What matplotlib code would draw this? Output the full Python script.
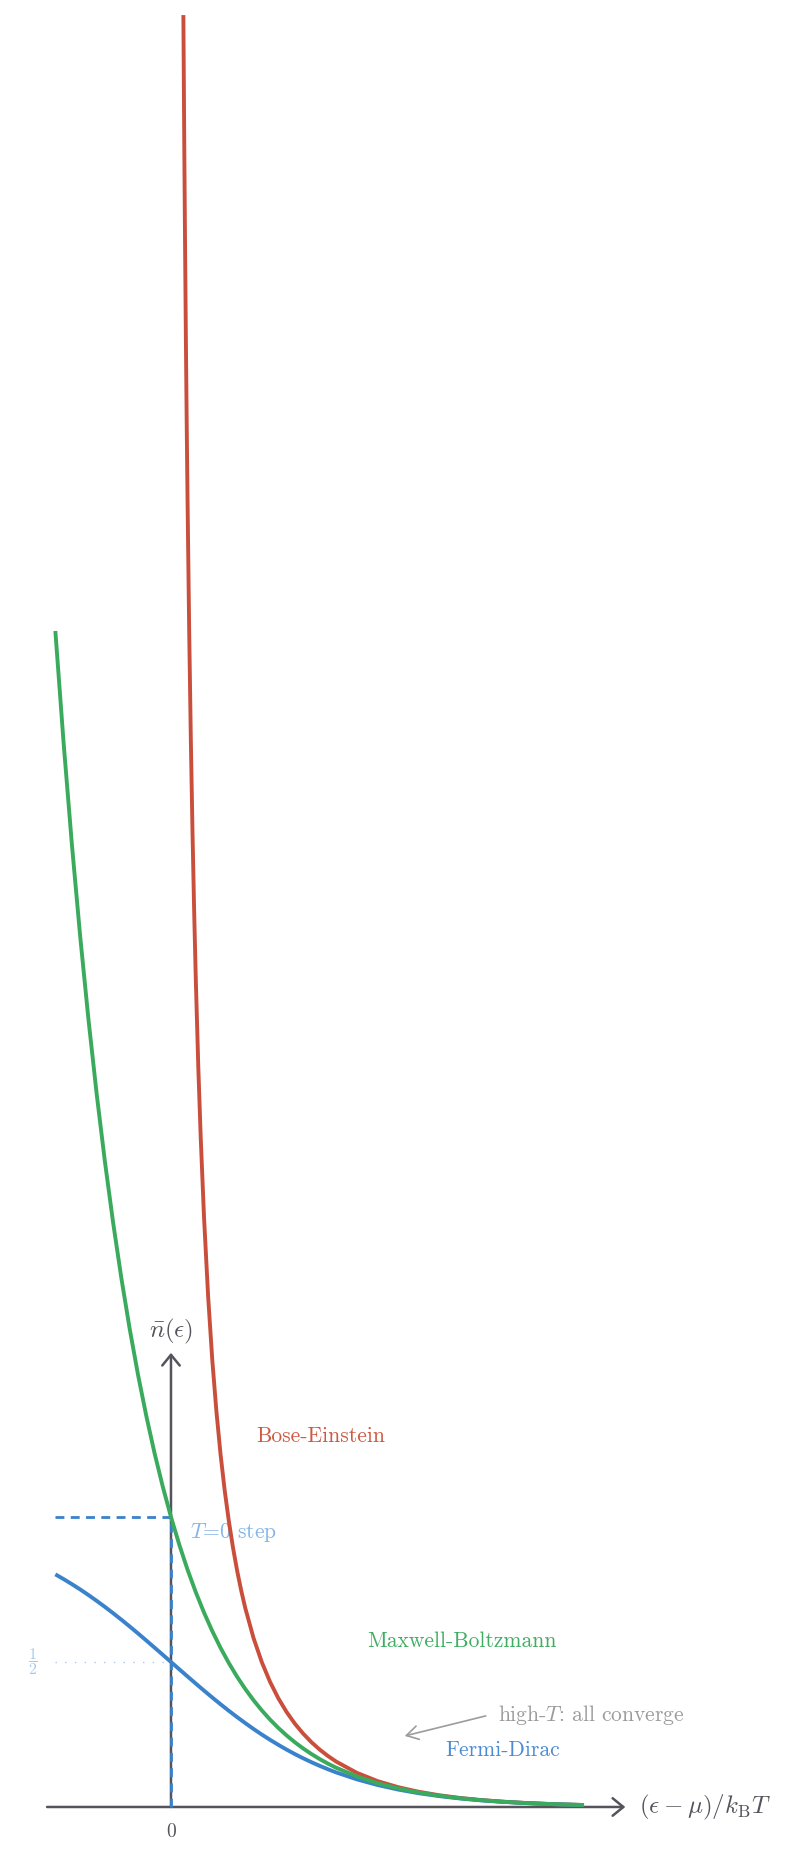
import matplotlib
matplotlib.use("Agg")
import matplotlib.pyplot as plt

plt.rcParams['mathtext.fontset'] = 'cm'
plt.rcParams['font.family'] = ['cmr10', 'DejaVu Serif']
plt.rcParams['axes.formatter.use_mathtext'] = True

# ---- data ----
x_fd_mb = [-1.4, -1.3, -1.2, -1.1, -1.0, -0.9, -0.8, -0.7, -0.6, -0.5, -0.4, -0.3, -0.2, -0.1,
           0.0, 0.1, 0.2, 0.3, 0.4, 0.5, 0.6, 0.7, 0.8, 0.9, 1.0, 1.1, 1.2, 1.3, 1.4, 1.5,
           1.6, 1.7, 1.8, 1.9, 2.0, 2.25, 2.5, 2.75, 3.0, 3.25, 3.5, 3.75, 4.0, 4.25, 4.5,
           4.75, 5.0]
n_mb = [4.0552, 3.6693, 3.3201, 3.0042, 2.7183, 2.4596, 2.2255, 2.0138, 1.8221, 1.6487,
        1.4918, 1.3499, 1.2214, 1.1052, 1.0, 0.9048, 0.8187, 0.7408, 0.6703, 0.6065,
        0.5488, 0.4966, 0.4493, 0.4066, 0.3679, 0.3329, 0.3012, 0.2725, 0.2466, 0.2231,
        0.2019, 0.1827, 0.1653, 0.1496, 0.1353, 0.1054, 0.0821, 0.0639, 0.0498, 0.0388,
        0.0302, 0.0235, 0.0183, 0.0143, 0.0111, 0.00865, 0.00674]
n_fd = [0.8022, 0.7858, 0.7685, 0.7503, 0.7311, 0.7109, 0.6900, 0.6682, 0.6457, 0.6225,
        0.5987, 0.5744, 0.5498, 0.5250, 0.5, 0.4750, 0.4502, 0.4256, 0.4013, 0.3775,
        0.3543, 0.3318, 0.3100, 0.2891, 0.2689, 0.2497, 0.2315, 0.2142, 0.1978, 0.1824,
        0.1680, 0.1545, 0.1419, 0.1301, 0.1192, 0.0953, 0.0759, 0.0601, 0.0474, 0.0374,
        0.0293, 0.0230, 0.0180, 0.0141, 0.0110, 0.00858, 0.00669]
x_be = [0.15, 0.16, 0.17, 0.18, 0.19, 0.20, 0.22, 0.24, 0.26, 0.28, 0.30, 0.33, 0.36, 0.40,
        0.45, 0.50, 0.55, 0.60, 0.65, 0.70, 0.75, 0.80, 0.85, 0.90, 1.0, 1.1, 1.2, 1.3,
        1.4, 1.5, 1.6, 1.7, 1.8, 1.9, 2.0, 2.25, 2.5, 2.75, 3.0, 3.25, 3.5, 3.75, 4.0,
        4.25, 4.5, 4.75, 5.0]
n_be = [6.179, 5.761, 5.398, 5.072, 4.780, 4.517, 4.063, 3.686, 3.369, 3.095, 2.858,
        2.557, 2.308, 2.033, 1.759, 1.541, 1.364, 1.216, 1.092, 0.9865, 0.8954, 0.8159,
        0.7464, 0.6852, 0.5820, 0.4990, 0.4310, 0.3746, 0.3273, 0.2872, 0.2530, 0.2235,
        0.1980, 0.1759, 0.1565, 0.1178, 0.0894, 0.0683, 0.0524, 0.0404, 0.0311, 0.0241,
        0.01866, 0.0145, 0.01123, 0.00873, 0.00678]
step_x = [-1.4, 0.0, 0.0]
step_y = [1.0, 1.0, 0.0]
half_x = [-1.4, 0.0]
half_y = [0.5, 0.5]

red = '#c94f3c'
green = '#3aaa5d'
blue = '#3a82cb'
axis_c = '#55535b'

fig = plt.figure(figsize=(8, 18.64), dpi=100)
fig.patch.set_facecolor('white')
ax = fig.add_axes([0, 0, 1, 1])
ax.set_xlim(-2.070, 7.615)
ax.set_ylim(-0.1966, 6.231)
ax.axis('off')

# axes with arrows
ax.annotate('', xy=(5.5, 0), xytext=(-1.5, 0),
            arrowprops=dict(arrowstyle='->,head_length=0.55,head_width=0.45',
                            lw=1.8, color=axis_c, shrinkA=0, shrinkB=0,
                            mutation_scale=14), zorder=2)
ax.annotate('', xy=(0, 1.566), xytext=(0, 0),
            arrowprops=dict(arrowstyle='->,head_length=0.55,head_width=0.45',
                            lw=1.8, color=axis_c, shrinkA=0, shrinkB=0,
                            mutation_scale=14), zorder=2)

# T=0 step and 1/2 guide
ax.plot(step_x, step_y, color=blue, lw=2.0, ls=(0, (3.2, 2.3)), zorder=3)
ax.plot(half_x, half_y, color='#a9c9ee', lw=1.0, ls=(0, (1, 6)), zorder=3)

# curves
ax.plot(x_be, n_be, color=red, lw=2.8, solid_joinstyle='round', solid_capstyle='butt', zorder=5)
ax.plot(x_fd_mb, n_fd, color=blue, lw=2.8, solid_joinstyle='round', solid_capstyle='butt', zorder=5)
ax.plot(x_fd_mb, n_mb, color=green, lw=2.8, solid_joinstyle='round', solid_capstyle='butt', zorder=6)

# texts
ax.text(0, 1.64, r'$\bar{n}(\epsilon)$', ha='center', va='center', fontsize=18, color=axis_c)
ax.text(5.67, 0, r'$(\epsilon-\mu)/k_{\mathrm{B}}T$', ha='left', va='center',
        fontsize=18, color=axis_c)
ax.text(0, -0.085, '0', ha='center', va='center', fontsize=14, color=axis_c)
ax.text(-1.67, 0.5, r'$\dfrac{1}{2}$', ha='center', va='center', fontsize=11.5, color='#a9c9ee')

ax.text(1.81, 1.28, 'Bose-Einstein', ha='center', va='center', fontsize=15.5, color='#cf5843', zorder=1)
ax.text(0.23, 0.945, r'$T$=0 step', ha='left', va='center', fontsize=15.5, color='#86b5e8', zorder=1)
ax.text(3.52, 0.57, 'Maxwell-Boltzmann', ha='center', va='center', fontsize=15.5, color='#40ad62', zorder=1)
ax.text(4.02, 0.197, 'Fermi-Dirac', ha='center', va='center', fontsize=15.5, color='#4b8cd3', zorder=1)
ax.text(3.96, 0.317, r'high-$T$: all converge', ha='left', va='center', fontsize=15.5,
        color='#9c9c9c', zorder=1)
ax.annotate('', xy=(2.83, 0.245), xytext=(3.81, 0.314),
            arrowprops=dict(arrowstyle='->,head_length=0.6,head_width=0.35',
                            lw=1.2, color='#9c9c9c', shrinkA=0, shrinkB=0,
                            mutation_scale=14), zorder=1)

fig.savefig('out.png', dpi=100, facecolor='white')
